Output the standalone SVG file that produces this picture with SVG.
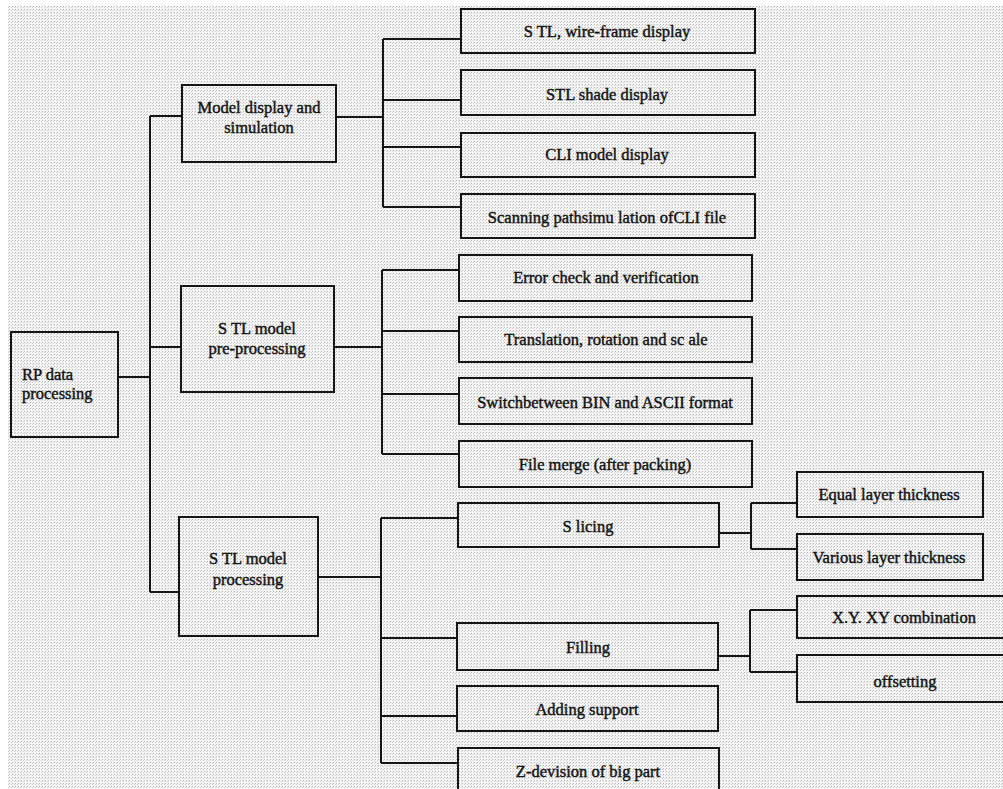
<svg xmlns="http://www.w3.org/2000/svg" width="1003" height="789" viewBox="0 0 1003 789">
<style>
.box{fill:none;stroke:#151515;stroke-width:2}
.ln{fill:none;stroke:#151515;stroke-width:2}
text{font-size:16.5px;fill:#111;stroke:#111;stroke-width:0.4}
.c{text-anchor:middle}
</style>
<defs>
<pattern id="dith" width="3" height="3" patternUnits="userSpaceOnUse">
<rect width="3" height="3" fill="#f5f5f5"/>
<rect x="0" y="0" width="1" height="1" fill="#b4b4b4"/>
<rect x="2" y="1" width="1" height="1" fill="#d0d0d0"/>
</pattern>
</defs>
<rect width="1003" height="789" fill="#ffffff"/>
<rect x="8" y="6" width="995" height="783" fill="url(#dith)"/>

<g id="connectors">
<path class="ln" d="M118,377H150M150,116V592M150,116H182M150,347H181M150,592H179"/>
<path class="ln" d="M336,117H383M383,39V207M383,39H461M383,100H461M383,147H461M383,207H461"/>
<path class="ln" d="M334,347H382M382,270V454M382,270H459M382,331H459M382,394H459M382,454H459"/>
<path class="ln" d="M318,577H381M381,518V763M381,518H458M381,638H457M381,716H457M381,763H458"/>
<path class="ln" d="M719,533H751M751,503V549M751,503H797M751,549H797"/>
<path class="ln" d="M718,656H750M750,610V672M750,610H797M750,672H797"/>
</g>

<g font-family="Liberation Serif, Times New Roman, serif">
<g id="rp"><rect class="box" x="11" y="332" width="107" height="105"/>
<text x="22" y="380">RP data</text><text x="22" y="399">processing</text></g>

<g id="model-display"><rect class="box" x="182" y="85" width="154" height="77"/>
<text class="c" x="259" y="113">Model display and</text><text class="c" x="259" y="133">simulation</text></g>

<g id="stl-pre"><rect class="box" x="181" y="286" width="153" height="106"/>
<text class="c" x="257" y="334">S TL model</text><text class="c" x="257" y="354">pre-processing</text></g>

<g id="stl-proc"><rect class="box" x="179" y="517" width="139" height="119"/>
<text class="c" x="248" y="564">S TL model</text><text class="c" x="248" y="585">processing</text></g>

<g id="wire"><rect class="box" x="461" y="9" width="294" height="44"/>
<text class="c" x="607" y="37">S TL, wire-frame display</text></g>
<g id="shade"><rect class="box" x="461" y="70" width="294" height="45"/>
<text class="c" x="607" y="100">STL shade display</text></g>
<g id="cli"><rect class="box" x="461" y="133" width="294" height="44"/>
<text class="c" x="607" y="160">CLI model display</text></g>
<g id="scan"><rect class="box" x="461" y="194" width="294" height="44"/>
<text class="c" x="607" y="223">Scanning pathsimu lation ofCLI file</text></g>

<g id="error"><rect class="box" x="459" y="255" width="293" height="46"/>
<text class="c" x="606" y="283">Error check and verification</text></g>
<g id="trans"><rect class="box" x="459" y="317" width="293" height="45"/>
<text class="c" x="606" y="345">Translation, rotation and sc ale</text></g>
<g id="switch"><rect class="box" x="459" y="378" width="293" height="46"/>
<text class="c" x="605" y="408">Switchbetween BIN and ASCII format</text></g>
<g id="merge"><rect class="box" x="459" y="441" width="293" height="46"/>
<text class="c" x="605" y="470">File merge (after packing)</text></g>

<g id="slicing"><rect class="box" x="458" y="503" width="261" height="44"/>
<text class="c" x="588" y="532">S licing</text></g>
<g id="filling"><rect class="box" x="457" y="623" width="261" height="47"/>
<text class="c" x="588" y="653">Filling</text></g>
<g id="support"><rect class="box" x="457" y="686" width="261" height="45"/>
<text class="c" x="587" y="715">Adding support</text></g>
<g id="zdiv"><rect class="box" x="458" y="748" width="261" height="46"/>
<text class="c" x="588" y="777">Z-devision of big part</text></g>

<g id="equal"><rect class="box" x="797" y="472" width="186" height="45"/>
<text class="c" x="889" y="500">Equal layer thickness</text></g>
<g id="various"><rect class="box" x="797" y="534" width="186" height="46"/>
<text class="c" x="889" y="563">Various layer thickness</text></g>
<g id="xy"><rect class="box" x="797" y="596" width="212" height="42"/>
<text class="c" x="904" y="623">X.Y. XY combination</text></g>
<g id="offset"><rect class="box" x="797" y="655" width="212" height="47"/>
<text class="c" x="905" y="687">offsetting</text></g>
</g>
</svg>
